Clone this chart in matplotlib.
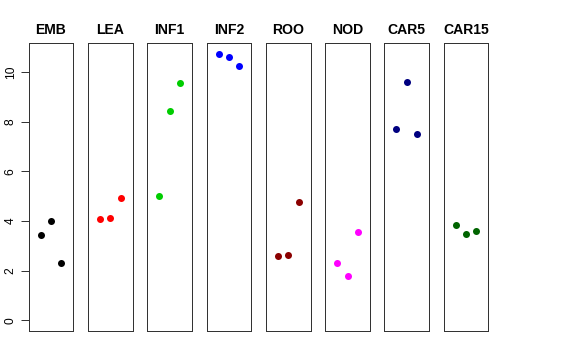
import matplotlib
matplotlib.use("Agg")
import matplotlib.pyplot as plt

plt.rcParams['font.family'] = ['Liberation Sans', 'DejaVu Sans']

categories = ["EMB", "LEA", "INF1", "INF2", "ROO", "NOD", "CAR5", "CAR15"]
values = {
    "EMB":   [3.44, 4.02, 2.30],
    "LEA":   [4.08, 4.11, 4.93],
    "INF1":  [5.01, 8.44, 9.56],
    "INF2":  [10.75, 10.63, 10.25],
    "ROO":   [2.58, 2.62, 4.76],
    "NOD":   [2.31, 1.77, 3.56],
    "CAR5":  [7.70, 9.60, 7.52],
    "CAR15": [3.85, 3.49, 3.61],
}
colors = ["#000000", "#FF0000", "#00CD00", "#0000FF", "#8B0000", "#FF00FF", "#000080", "#006400"]
replicates = [1, 2, 3]
yticks = [0, 2, 4, 6, 8, 10]

W, H = 576, 360
fig = plt.figure(figsize=(W / 72, H / 72), dpi=72)

left0 = 28.7
pw = 44.6
pitch = 59.3
top_px = 43
bot_px = 331

ymin, ymax = 0, 10.75
yr = ymax - ymin
ylim = (ymin - 0.04 * yr, ymax + 0.04 * yr)
xlim = (0 - 0.16, 4 + 0.16)

for i, cat in enumerate(categories):
    x0 = left0 + i * pitch
    ax = fig.add_axes([x0 / W, (H - bot_px) / H, pw / W, (bot_px - top_px) / H])
    ax.plot(replicates, values[cat], 'o', color=colors[i], markersize=7, markeredgewidth=0)
    ax.set_xlim(*xlim)
    ax.set_ylim(*ylim)
    ax.set_xticks([])
    ax.set_title(cat, fontsize=14, fontweight='bold', pad=9)
    for s in ax.spines.values():
        s.set_linewidth(1)
        s.set_color('#333333')
    if i == 0:
        ax.set_yticks(yticks)
        ax.set_yticklabels([str(t) for t in yticks], rotation=90, va='center', fontsize=12)
        ax.tick_params(axis='y', length=8, width=1, pad=4, color='#333333')
    else:
        ax.set_yticks([])

fig.savefig("out.png", dpi=72)
